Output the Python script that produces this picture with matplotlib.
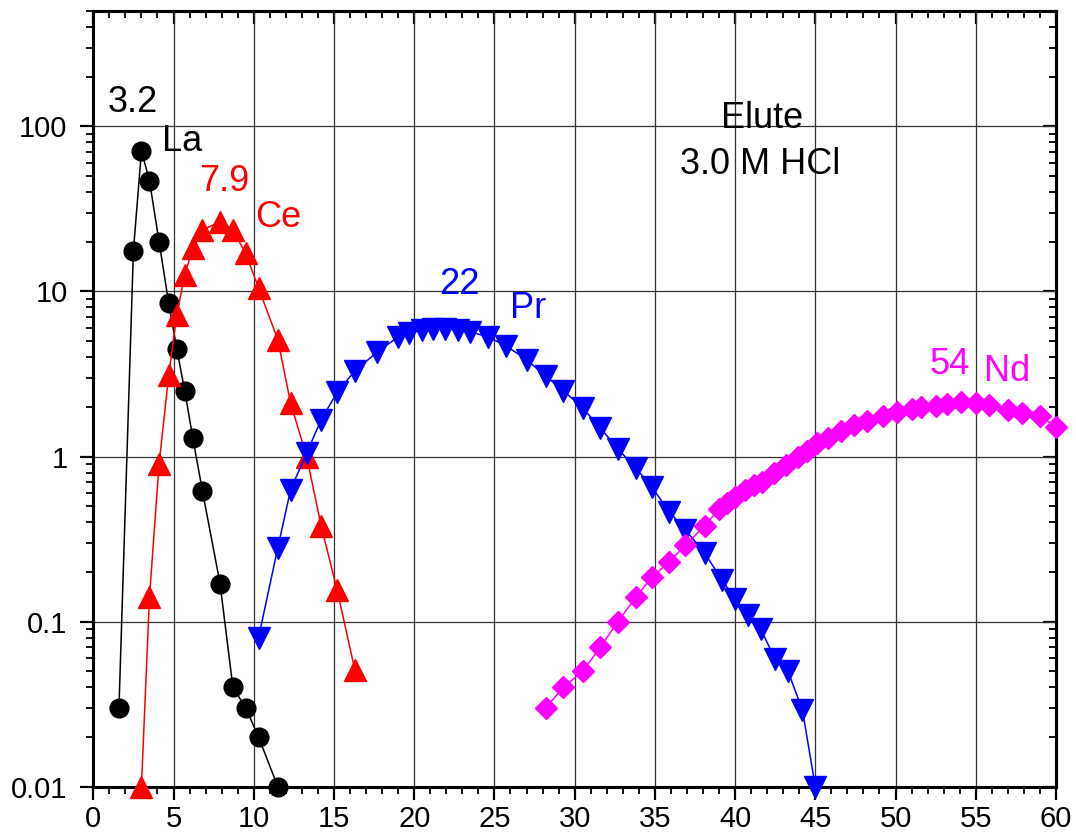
import matplotlib
matplotlib.use("Agg")
import matplotlib.pyplot as plt
from matplotlib.ticker import FixedLocator, NullFormatter, MultipleLocator

plt.rcParams['font.family'] = ['Liberation Sans', 'DejaVu Sans']

# ---- data ----
la_x = [1.6, 2.5, 3.0, 3.5, 4.1, 4.7, 5.2, 5.7, 6.2, 6.8, 7.9, 8.7, 9.5, 10.3, 11.5]
la_y = [0.03, 17.6, 71, 47, 20, 8.5, 4.5, 2.5, 1.3, 0.62, 0.17, 0.04, 0.03, 0.02, 0.01]

ce_x = [3.0, 3.5, 4.1, 4.7, 5.2, 5.7, 6.2, 6.8, 7.9, 8.7, 9.5, 10.3, 11.5, 12.3, 13.3, 14.2, 15.2, 16.3]
ce_y = [0.01, 0.14, 0.9, 3.1, 7.2, 12.6, 18.3, 23.5, 26.5, 23.5, 17, 10.5, 5.1, 2.1, 1.0, 0.38, 0.155, 0.051]

pr_x = [10.3, 11.5, 12.3, 13.3, 14.2, 15.2, 16.3, 17.7, 19.0, 19.7, 20.5, 21.2, 21.9, 22.7,
        23.5, 24.6, 25.7, 27.0, 28.2, 29.3, 30.5, 31.6, 32.7, 33.8, 34.8, 35.9, 36.9, 38.1,
        39.2, 40.0, 40.8, 41.6, 42.5, 43.3, 44.2, 45.0]
pr_y = [0.08, 0.28, 0.63, 1.05, 1.67, 2.45, 3.3, 4.3, 5.3, 5.6, 5.85, 5.95, 5.95, 5.85,
        5.7, 5.3, 4.7, 3.86, 3.07, 2.5, 1.97, 1.49, 1.11, 0.855, 0.656, 0.463, 0.36, 0.26,
        0.178, 0.137, 0.11, 0.09, 0.059, 0.05, 0.029, 0.01]

nd_x = [28.2, 29.3, 30.5, 31.6, 32.7, 33.8, 34.8, 35.9, 36.9, 38.1, 39.0, 39.5, 40.0, 40.6,
        41.2, 41.7, 42.4, 43.2, 43.9, 44.5, 45.1, 45.8, 46.6, 47.4, 48.2, 49.2, 50.1, 51.0,
        51.6, 52.5, 53.2, 54.1, 55.0, 55.8, 57.0, 57.9, 59.0, 60.0]
nd_y = [0.03, 0.04, 0.05, 0.07, 0.10, 0.14, 0.185, 0.23, 0.29, 0.38, 0.48, 0.52, 0.57, 0.63,
        0.67, 0.70, 0.80, 0.89, 1.0, 1.08, 1.2, 1.29, 1.42, 1.56, 1.65, 1.75, 1.87, 1.94,
        1.99, 2.03, 2.09, 2.15, 2.12, 2.06, 1.92, 1.83, 1.75, 1.52]

y_ticks = [0.01, 0.1, 1, 10, 100]
y_tick_labels = ["0.01", "0.1", "1", "10", "100"]
x_ticks = [0, 5, 10, 15, 20, 25, 30, 35, 40, 45, 50, 55, 60]

# ---- figure ----
fig = plt.figure(figsize=(10.76, 8.4), dpi=100)
ax = fig.add_axes([0.0867, 0.0635, 0.9814 - 0.0867, 0.9869 - 0.0635])

lw = 1.1
ax.plot(la_x, la_y, '-', color='black', lw=lw, marker='o', ms=13.5, clip_on=False, zorder=3)
ax.plot(ce_x, ce_y, '-', color='#ff0000', lw=lw, marker='^', ms=15.5, clip_on=False, zorder=3)
ax.plot(pr_x, pr_y, '-', color='#0000ff', lw=lw, marker='v', ms=15.5, clip_on=False, zorder=3)
ax.plot(nd_x, nd_y, '-', color='#ff00ff', lw=lw, marker='D', ms=11, clip_on=False, zorder=3)

ax.set_yscale('log')
ax.set_xlim(0, 60)
ax.set_ylim(0.01, 500)

ax.xaxis.set_major_locator(FixedLocator(x_ticks))
ax.xaxis.set_minor_locator(MultipleLocator(1))
ax.set_xticklabels([str(v) for v in x_ticks])
ax.yaxis.set_major_locator(FixedLocator(y_ticks))
ax.set_yticklabels(y_tick_labels)
minors = [m * 10.0 ** e for e in range(-2, 3) for m in range(2, 10) if m * 10.0 ** e <= 500]
ax.yaxis.set_minor_locator(FixedLocator(minors))
ax.yaxis.set_minor_formatter(NullFormatter())

ax.grid(True, which='major', color='0.2', lw=0.9)
ax.set_axisbelow(True)

for s in ax.spines.values():
    s.set_linewidth(2.2)

ax.tick_params(axis='both', which='major', direction='out', length=9.5, width=1.6,
               labelsize=21)
ax.tick_params(axis='y', which='major', pad=9)
ax.tick_params(axis='x', which='major', pad=4)
ax.tick_params(axis='both', which='minor', direction='out', length=5, width=1.3)

# mirrored top/right ticks pointing inward
top = ax.secondary_xaxis('top')
top.xaxis.set_major_locator(FixedLocator(x_ticks))
top.xaxis.set_minor_locator(MultipleLocator(1))
top.tick_params(which='major', direction='in', length=9.5, width=1.6, labeltop=False)
top.tick_params(which='minor', direction='in', length=5, width=1.3)
top.spines['top'].set_linewidth(2.2)

right = ax.secondary_yaxis('right')
right.yaxis.set_major_locator(FixedLocator(y_ticks))
right.yaxis.set_minor_locator(FixedLocator(minors))
right.yaxis.set_minor_formatter(NullFormatter())
right.tick_params(which='major', direction='in', length=9.5, width=1.6, labelright=False)
right.tick_params(which='minor', direction='in', length=5, width=1.3)
right.spines['right'].set_linewidth(2.2)

fs = 26
ax.text(2.47, 139, "3.2", color='black', fontsize=fs, ha='center', va='center')
ax.text(5.51, 81, "La", color='black', fontsize=fs, ha='center', va='center')
ax.text(8.14, 46.2, "7.9", color='#ff0000', fontsize=fs, ha='center', va='center')
ax.text(11.53, 28, "Ce", color='#ff0000', fontsize=fs, ha='center', va='center')
ax.text(22.79, 11.0, "22", color='#0000ff', fontsize=fs, ha='center', va='center')
ax.text(27.12, 7.93, "Pr", color='#0000ff', fontsize=fs, ha='center', va='center')
ax.text(53.35, 3.6, "54", color='#ff00ff', fontsize=fs, ha='center', va='center')
ax.text(56.93, 3.26, "Nd", color='#ff00ff', fontsize=fs, ha='center', va='center')
ax.text(41.67, 111, "Elute", color='black', fontsize=fs, ha='center', va='center')
ax.text(41.56, 58.6, "3.0 M HCl", color='black', fontsize=fs, ha='center', va='center')

fig.savefig("out.png", dpi=100)
